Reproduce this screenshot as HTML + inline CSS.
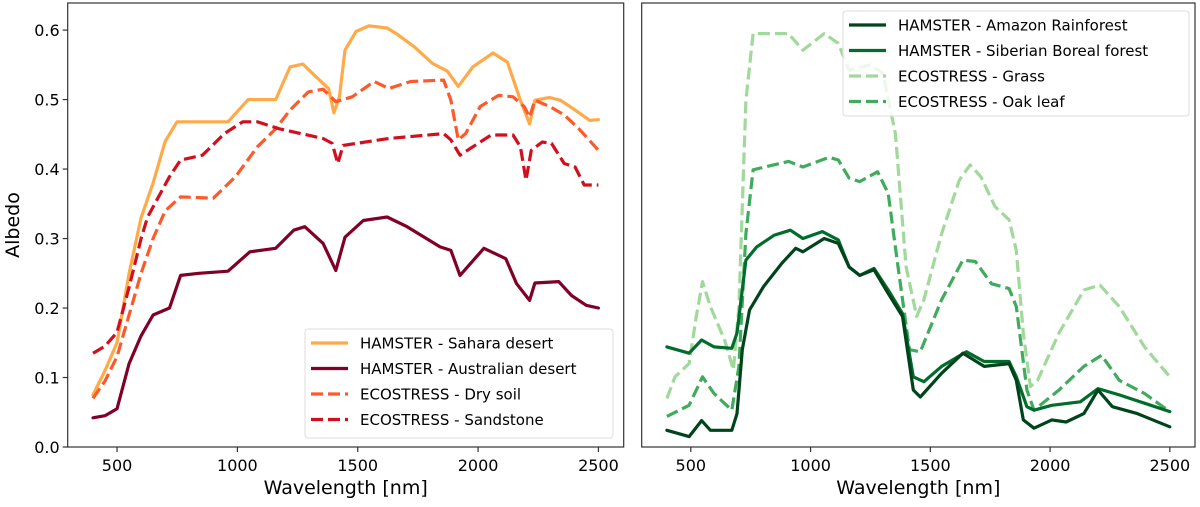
<!DOCTYPE html>
<html><head><meta charset="utf-8"><style>
body{margin:0;background:#fff;}
svg text{font-family:"DejaVu Sans","Liberation Sans",sans-serif;fill:#000;}
</style></head><body>
<svg id="fig" width="1200" height="502" viewBox="0 0 1200 502" xmlns="http://www.w3.org/2000/svg"></svg>
<script>
// ---- data ----
const xTicks=[500,1000,1500,2000,2500];
const yTicks=[0.0,0.1,0.2,0.3,0.4,0.5,0.6];
const yTickLabels=["0.0","0.1","0.2","0.3","0.4","0.5","0.6"];
const saharaWl=[400,450,500,550,600,650,700,749,840,961,1045,1159,1219,1272,1326,1379,1401,1424,1447,1493,1546,1622,1660,1735,1811,1872,1918,1978,2062,2122,2176,2214,2236,2297,2343,2403,2464,2500];
const saharaVal=[0.075,0.11,0.15,0.25,0.33,0.38,0.44,0.468,0.468,0.468,0.5,0.5,0.547,0.551,0.533,0.516,0.481,0.504,0.571,0.598,0.606,0.603,0.595,0.576,0.552,0.541,0.519,0.547,0.567,0.554,0.499,0.465,0.499,0.503,0.499,0.485,0.47,0.471];
const ausWl=[400,450,500,550,600,650,718,764,840,961,1052,1159,1234,1280,1356,1409,1447,1523,1622,1705,1842,1887,1925,2024,2115,2160,2214,2236,2335,2388,2449,2500];
const ausVal=[0.042,0.045,0.055,0.12,0.16,0.19,0.2,0.247,0.25,0.253,0.281,0.286,0.312,0.317,0.293,0.254,0.302,0.326,0.331,0.317,0.288,0.283,0.247,0.286,0.271,0.235,0.211,0.236,0.238,0.218,0.204,0.2];
const soilWl=[400,450,500,550,600,650,700,764,900,992,1083,1159,1219,1295,1356,1409,1477,1568,1629,1720,1857,1887,1918,1948,2009,2085,2145,2191,2214,2236,2297,2358,2419,2500];
const soilVal=[0.07,0.095,0.13,0.19,0.25,0.3,0.34,0.36,0.358,0.389,0.432,0.458,0.485,0.511,0.515,0.497,0.504,0.526,0.516,0.526,0.528,0.499,0.442,0.451,0.49,0.506,0.504,0.49,0.475,0.499,0.49,0.478,0.458,0.427];
const sandWl=[400,450,500,550,600,627,718,764,855,946,1022,1083,1174,1356,1394,1417,1439,1629,1857,1887,1925,1978,2054,2145,2176,2199,2221,2267,2305,2358,2403,2441,2500];
const sandVal=[0.135,0.145,0.165,0.23,0.3,0.331,0.389,0.413,0.42,0.451,0.468,0.468,0.458,0.444,0.437,0.408,0.434,0.444,0.451,0.442,0.42,0.432,0.449,0.449,0.432,0.384,0.427,0.439,0.437,0.408,0.403,0.377,0.377];
const amzWl=[400,493,545,582,671,693,715,745,804,879,938,968,1057,1116,1161,1205,1265,1324,1384,1429,1458,1547,1636,1725,1829,1859,1888,1933,2007,2067,2141,2200,2260,2364,2500];
const amzVal=[0.024,0.015,0.038,0.024,0.024,0.048,0.14,0.197,0.231,0.264,0.286,0.281,0.3,0.293,0.259,0.247,0.255,0.221,0.188,0.082,0.072,0.106,0.135,0.116,0.12,0.096,0.039,0.027,0.039,0.036,0.048,0.082,0.058,0.048,0.029];
const sibWl=[400,493,545,597,671,693,730,775,849,916,968,1049,1116,1161,1205,1265,1324,1384,1429,1473,1547,1651,1725,1829,1859,1903,1933,2007,2126,2200,2289,2394,2500];
const sibVal=[0.144,0.135,0.154,0.144,0.142,0.164,0.269,0.288,0.305,0.312,0.3,0.31,0.298,0.259,0.247,0.257,0.226,0.192,0.101,0.094,0.116,0.137,0.123,0.123,0.101,0.058,0.053,0.06,0.065,0.084,0.075,0.063,0.051];
const grassWl=[400,434,493,523,549,582,641,678,701,730,760,908,968,1057,1116,1161,1250,1302,1354,1399,1443,1473,1547,1621,1666,1711,1770,1829,1859,1888,1918,1948,2037,2141,2208,2289,2394,2500];
const grassVal=[0.07,0.101,0.12,0.188,0.238,0.202,0.154,0.111,0.202,0.499,0.595,0.595,0.571,0.595,0.581,0.542,0.55,0.538,0.451,0.259,0.188,0.212,0.307,0.384,0.406,0.389,0.346,0.327,0.283,0.164,0.087,0.096,0.164,0.226,0.233,0.202,0.144,0.101];
const oakWl=[400,493,549,597,671,701,730,760,908,968,1077,1116,1161,1205,1280,1324,1369,1413,1458,1547,1636,1688,1755,1829,1859,1903,1933,2037,2141,2215,2289,2394,2500];
const oakVal=[0.044,0.06,0.101,0.077,0.053,0.116,0.307,0.399,0.411,0.403,0.417,0.413,0.387,0.382,0.396,0.365,0.25,0.14,0.137,0.212,0.269,0.267,0.235,0.228,0.202,0.082,0.053,0.082,0.116,0.132,0.096,0.077,0.051];

const NS="http://www.w3.org/2000/svg";
const svg=document.getElementById('fig');
function el(tag,attrs,parent){const e=document.createElementNS(NS,tag);for(const k in attrs)e.setAttribute(k,attrs[k]);(parent||svg).appendChild(e);return e;}
const XMIN=295,XMAX=2605,YMIN=0,YMAX=0.639,TOP=3,BOT=447;
function makeAxes(left,right){
  return {x:w=>left+(w-XMIN)/(XMAX-XMIN)*(right-left), y:v=>BOT-(v-YMIN)/(YMAX-YMIN)*(BOT-TOP), left, right};
}
const A1=makeAxes(67.7,623.7), A2=makeAxes(641.7,1195);
function frame(ax,name,showY){
  const g=el('g',{});
  
  
  el('rect',{x:ax.left,y:TOP,width:ax.right-ax.left,height:BOT-TOP,fill:'#fff',stroke:'#333','stroke-width':1.2},g);
  xTicks.forEach(t=>{
    const X=ax.x(t);
    el('line',{x1:X,x2:X,y1:BOT,y2:BOT+5,stroke:'#333','stroke-width':1.2},g);
    const tx=el('text',{x:X,y:BOT+24,'text-anchor':'middle','font-size':16},g);
    tx.textContent=t;
    
    
  });
  if(showY){yTicks.forEach((t,i)=>{
    const Y=ax.y(t);
    el('line',{x1:ax.left-5,x2:ax.left,y1:Y,y2:Y,stroke:'#333','stroke-width':1.2},g);
    const ty=el('text',{x:ax.left-8,y:Y+6,'text-anchor':'end','font-size':16},g);
    ty.textContent=yTickLabels[i];
    
    
  });}
  const xl=el('text',{x:(ax.left+ax.right)/2,y:494,'text-anchor':'middle','font-size':19},g);
  xl.textContent='Wavelength [nm]';
  
  
  return g;
}
function series(ax,wl,val,color,dashed,name){
  const d=wl.map((w,i)=>(i?'L':'M')+ax.x(w).toFixed(1)+' '+ax.y(val[i]).toFixed(1)).join(' ');
  const p=el('path',{d,fill:'none',stroke:color,'stroke-width':3.2,'stroke-linejoin':'round','stroke-linecap':dashed?'butt':'round'});
  if(dashed)p.setAttribute('stroke-dasharray','12 5');
  
  
}
function legend(x,y,w,h,items,name){
  const g=el('g',{});
  
  
  el('rect',{x,y,width:w,height:h,rx:3,fill:'#fff','fill-opacity':0.8,stroke:'#ddd'},g);
  items.forEach((it,i)=>{
    const cy=y+14+i*25.5;
    const ln=el('line',{x1:x+6,x2:x+43,y1:cy,y2:cy,stroke:it[1],'stroke-width':3.2},g);
    if(it[2])ln.setAttribute('stroke-dasharray','12 5');
    const t=el('text',{x:x+55,y:cy+5.5,'font-size':15},g);
    t.textContent=it[0];
    
    
  });
}
frame(A1,'left-axes',true);
frame(A2,'right-axes',false);
const yl=el('text',{x:0,y:0,'text-anchor':'middle','font-size':19,transform:'translate(19,225) rotate(-90)'});
yl.textContent='Albedo';



const C={sahara:'#feaa48',aus:'#800026',soil:'#fc5a2a',sand:'#d20f1f',amz:'#00441b',sib:'#006d2c',grass:'#a1d99b',oak:'#41ab5d'};
series(A1,saharaWl,saharaVal,C.sahara,false,'sahara-line');
series(A1,ausWl,ausVal,C.aus,false,'australian-line');
series(A1,soilWl,soilVal,C.soil,true,'dry-soil-line');
series(A1,sandWl,sandVal,C.sand,true,'sandstone-line');
series(A2,grassWl,grassVal,C.grass,true,'grass-line');
series(A2,oakWl,oakVal,C.oak,true,'oak-leaf-line');
series(A2,sibWl,sibVal,C.sib,false,'siberian-line');
series(A2,amzWl,amzVal,C.amz,false,'amazon-line');

legend(305,329,308,109,[['HAMSTER - Sahara desert',C.sahara,false],['HAMSTER - Australian desert',C.aus,false],['ECOSTRESS - Dry soil',C.soil,true],['ECOSTRESS - Sandstone',C.sand,true]],'left-legend');
legend(843,11,346,105,[['HAMSTER - Amazon Rainforest',C.amz,false],['HAMSTER - Siberian Boreal forest',C.sib,false],['ECOSTRESS - Grass',C.grass,true],['ECOSTRESS - Oak leaf',C.oak,true]],'right-legend');
</script>
</body></html>
